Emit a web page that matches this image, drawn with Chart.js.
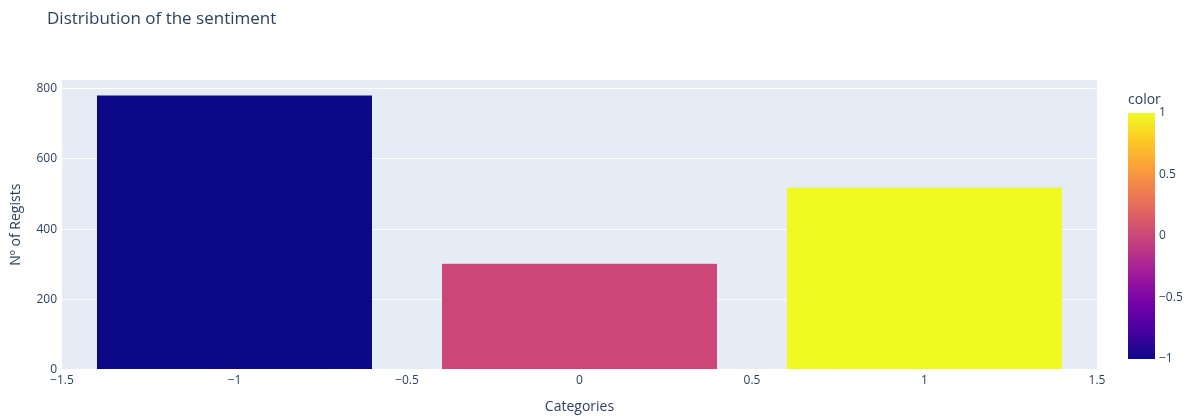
<!DOCTYPE html>
<html>
<head>
<meta charset="utf-8">
<script src="https://cdn.jsdelivr.net/npm/chart.js@4/dist/chart.umd.min.js"></script>
<style>
  html, body { margin: 0; padding: 0; background: #fff; }
  #wrap { width: 1190px; height: 416px; }
</style>
</head>
<body>
<div id="wrap"><canvas id="sentimentChart" width="1190" height="416"></canvas></div>
<script>
// values
const categories = [-1, 0, 1];
const counts = [782, 303, 520];
const barColors = ['#0d0887', '#cc4778', '#f0f921'];
const xTicks = [-1.5, -1, -0.5, 0, 0.5, 1, 1.5];
const yTicks = [0, 200, 400, 600, 800];
const colorbarTicks = [1, 0.5, 0, -0.5, -1];
const plasma = ['#0d0887', '#46039f', '#7201a8', '#9c179e', '#bd3786', '#d8576b', '#ed7953', '#fb9f3a', '#fdca26', '#f0f921'];

const fontFamily = '"Open Sans", verdana, arial, sans-serif';
const textColor = '#2a3f5f';

const fmt = v => (v < 0 ? '\u2212' + Math.abs(v) : String(v));

// plot background + title + colorbar
const plotlyLook = {
    id: 'plotlyLook',
    beforeDraw(chart) {
        const { ctx, chartArea } = chart;
        ctx.save();
        ctx.fillStyle = '#E5ECF6';
        ctx.fillRect(chartArea.left, chartArea.top, chartArea.right - chartArea.left, chartArea.bottom - chartArea.top);
        ctx.restore();
    },
    afterDraw(chart) {
        const ctx = chart.ctx;
        ctx.save();
        ctx.fillStyle = textColor;
        ctx.font = '17px ' + fontFamily;
        ctx.textBaseline = 'middle';
        ctx.textAlign = 'left';
        ctx.fillText('Distribution of the sentiment', 47, 19);

        // colorbar
        const cbLeft = 1128, cbRight = 1155, cbTop = 113, cbBottom = 359;
        const grad = ctx.createLinearGradient(0, cbBottom, 0, cbTop);
        plasma.forEach((c, i) => grad.addColorStop(i / (plasma.length - 1), c));
        ctx.fillStyle = grad;
        ctx.fillRect(cbLeft, cbTop, cbRight - cbLeft, cbBottom - cbTop);

        ctx.fillStyle = textColor;
        ctx.font = '14px ' + fontFamily;
        ctx.fillText('color', 1128, 100);
        ctx.font = '12px ' + fontFamily;
        colorbarTicks.forEach(v => {
            const y = cbBottom - (v + 1) / 2 * (cbBottom - cbTop);
            ctx.fillText(fmt(v), 1159, y);
        });
        ctx.restore();
    }
};

const ctx = document.getElementById('sentimentChart').getContext('2d');
new Chart(ctx, {
    type: 'bar',
    data: {
        datasets: [{
            label: 'count',
            data: categories.map((c, i) => ({ x: c, y: counts[i] })),
            backgroundColor: barColors,
            borderColor: '#E5ECF6',
            borderWidth: 0.5,
            // sample size is taken from the 0.5 tick spacing, so 1.6 gives 0.8 units
            categoryPercentage: 1,
            barPercentage: 1.6
        }]
    },
    options: {
        responsive: false,
        animation: false,
        layout: { padding: { left: 0, top: 80, right: 93, bottom: 0 } },
        plugins: {
            legend: { display: false },
            tooltip: { enabled: false }
        },
        scales: {
            x: {
                type: 'linear',
                offset: false,
                min: -1.5,
                max: 1.5,
                afterBuildTicks: scale => { scale.ticks = xTicks.map(v => ({ value: v })); },
                afterFit: scale => { scale.height = 46.5; },
                grid: { display: false, drawTicks: false },
                border: { display: false },
                ticks: {
                    padding: 4,
                    color: textColor,
                    font: { family: fontFamily, size: 12 },
                    maxRotation: 0,
                    callback: v => fmt(v)
                },
                title: {
                    display: true,
                    text: 'Categories',
                    color: textColor,
                    font: { family: fontFamily, size: 14 },
                    padding: { top: 0, bottom: 1 }
                }
            },
            y: {
                min: 0,
                max: 825,
                afterBuildTicks: scale => { scale.ticks = yTicks.map(v => ({ value: v })); },
                afterFit: scale => { scale.width = 62; },
                grid: { color: '#ffffff', lineWidth: 1, drawTicks: false },
                border: { display: false },
                ticks: {
                    padding: 5,
                    color: textColor,
                    font: { family: fontFamily, size: 12 },
                    callback: v => fmt(v)
                },
                title: {
                    display: true,
                    text: 'Nº of Regists',
                    color: textColor,
                    font: { family: fontFamily, size: 14 },
                    padding: { top: 8, bottom: 0 }
                }
            }
        }
    },
    plugins: [plotlyLook]
});
</script>
</body>
</html>
